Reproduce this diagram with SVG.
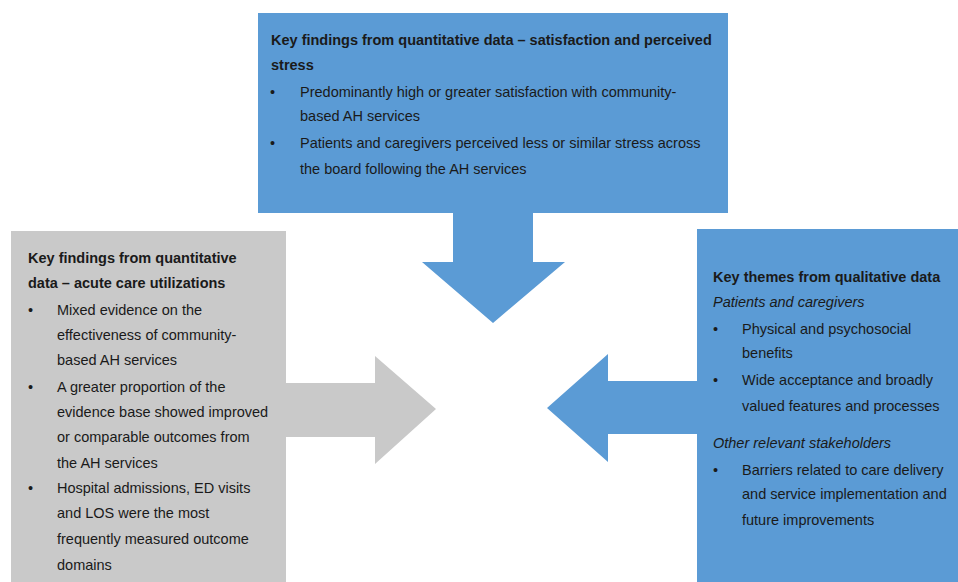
<svg xmlns="http://www.w3.org/2000/svg" width="958" height="582" viewBox="0 0 958 582">
  <style>
    .blue { fill: #5b9bd5; }
    .grey { fill: #c9c9c9; }
    text { font-family: "Liberation Sans", Arial, sans-serif; font-size: 14.5px; fill: #1a1a1a; }
    .title { font-weight: bold; }
    .sub { font-style: italic; }
  </style>
  <rect width="958" height="582" fill="#ffffff"/>

  <!-- block arrows pointing to the centre -->
  <g id="connectors">
    <polygon class="blue" points="453,212 533,212 533,262 565,262 493,323 422,262 453,262"/>
    <polygon class="grey" points="286,383 375,383 375,356 436,409 375,464 375,437 286,437"/>
    <polygon class="blue" points="697,381 608,381 608,354 547,408 608,462 608,434 697,434"/>
  </g>

  <!-- top: satisfaction and perceived stress -->
  <g id="node-satisfaction">
    <rect class="blue" x="258" y="13" width="470" height="200"/>
    <text class="title" x="271" y="45">Key findings from quantitative data – satisfaction and perceived</text>
    <text class="title" x="271" y="70">stress</text>
    <text x="270" y="97">•</text>
    <text x="300" y="97">Predominantly high or greater satisfaction with community-</text>
    <text x="300" y="121">based AH services</text>
    <text x="270" y="148">•</text>
    <text x="300" y="148">Patients and caregivers perceived less or similar stress across</text>
    <text x="300" y="174">the board following the AH services</text>
  </g>

  <!-- left: acute care utilizations -->
  <g id="node-acute-care">
    <rect class="grey" x="11" y="231" width="275" height="351"/>
    <text class="title" x="28" y="263">Key findings from quantitative</text>
    <text class="title" x="28" y="288">data – acute care utilizations</text>
    <text x="28" y="315">•</text>
    <text x="57" y="315">Mixed evidence on the</text>
    <text x="57" y="340">effectiveness of community-</text>
    <text x="57" y="365">based AH services</text>
    <text x="28" y="392">•</text>
    <text x="57" y="392">A greater proportion of the</text>
    <text x="57" y="417">evidence base showed improved</text>
    <text x="57" y="442">or comparable outcomes from</text>
    <text x="57" y="468">the AH services</text>
    <text x="28" y="493">•</text>
    <text x="57" y="493">Hospital admissions, ED visits</text>
    <text x="57" y="518">and LOS were the most</text>
    <text x="57" y="544">frequently measured outcome</text>
    <text x="57" y="570">domains</text>
  </g>

  <!-- right: qualitative themes -->
  <g id="node-qualitative">
    <rect class="blue" x="697" y="229" width="261" height="353"/>
    <text class="title" x="713" y="282">Key themes from qualitative data</text>
    <text class="sub" x="713" y="307">Patients and caregivers</text>
    <text x="713" y="334">•</text>
    <text x="742" y="334">Physical and psychosocial</text>
    <text x="742" y="358">benefits</text>
    <text x="713" y="385">•</text>
    <text x="742" y="385">Wide acceptance and broadly</text>
    <text x="742" y="411">valued features and processes</text>
    <text class="sub" x="713" y="448">Other relevant stakeholders</text>
    <text x="713" y="475">•</text>
    <text x="742" y="475">Barriers related to care delivery</text>
    <text x="742" y="499">and service implementation and</text>
    <text x="742" y="525">future improvements</text>
  </g>
</svg>
